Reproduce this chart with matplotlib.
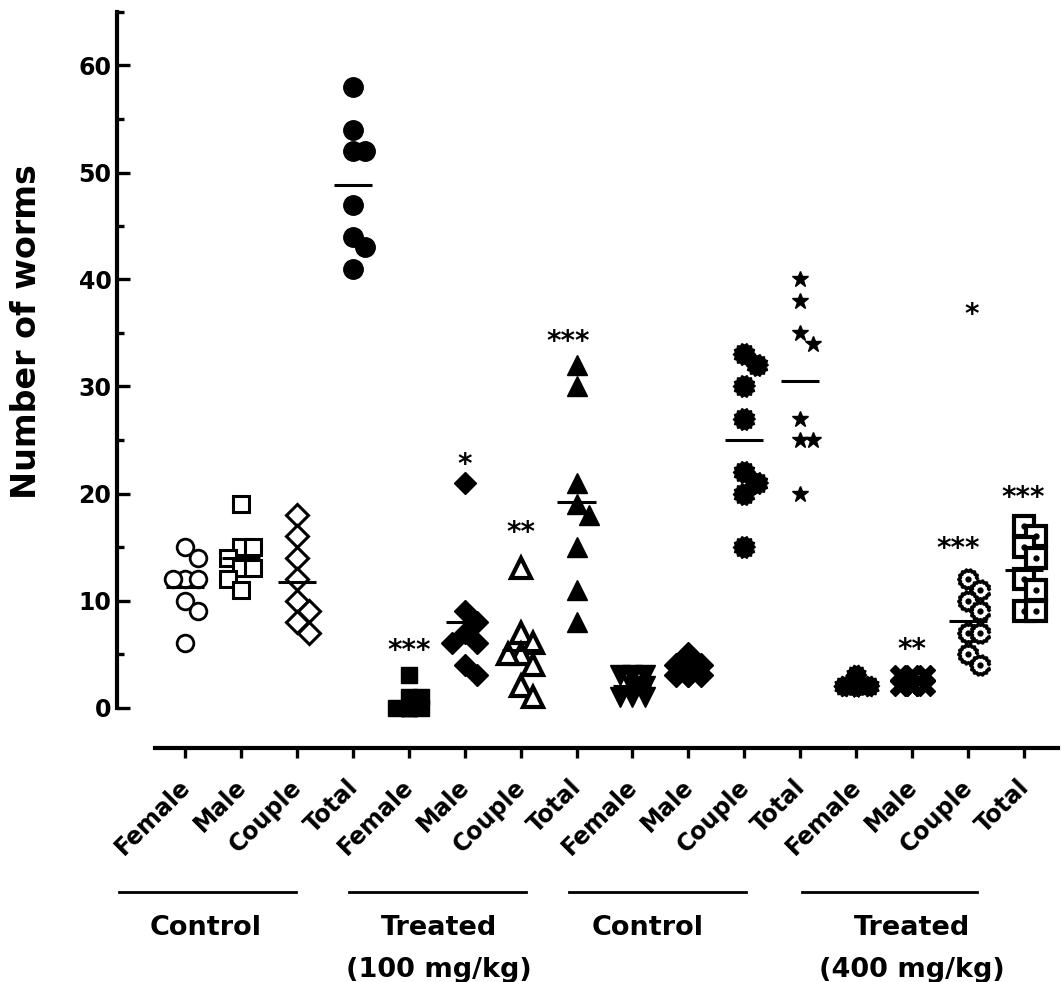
import numpy as np
import matplotlib
matplotlib.use("Agg")
import matplotlib.pyplot as plt
from matplotlib.path import Path
from matplotlib import transforms

# categorias no eixo x
categorias = ['Female', 'Male', 'Couple', 'Total'] * 4

# valores (número de vermes por animal)
ctrl1_female = [15, 14, 12, 12, 12, 10, 9, 6]
ctrl1_male = [19, 15, 15, 14, 13, 13, 12, 11]
ctrl1_couple = [18, 16, 14, 12, 10, 9, 8, 7]
ctrl1_total = [58, 54, 52, 52, 47, 44, 43, 41]
t100_female = [3, 1, 1, 0, 0, 0, 0, 0]
t100_male = [21, 9, 8, 7, 6, 6, 4, 3]
t100_couple = [13, 7, 6, 5, 5, 4, 2, 1]
t100_total = [32, 30, 21, 19, 18, 15, 11, 8]
ctrl2_female = [3, 3, 3, 2, 2, 1, 1, 1]
ctrl2_male = [5, 4, 4, 4, 3, 3, 3, 3]
ctrl2_couple = [33, 32, 30, 27, 22, 21, 20, 15]
ctrl2_total = [40, 38, 35, 34, 27, 25, 25, 20]
t400_female = [3, 2, 2, 2, 2, 2, 2, 2]
t400_male = [3, 3, 3, 2, 2, 2, 2, 2]
t400_couple = [12, 11, 10, 9, 7, 7, 5, 4]
t400_total = [17, 16, 15, 14, 12, 11, 9, 9]

series = [ctrl1_female, ctrl1_male, ctrl1_couple, ctrl1_total,
          t100_female, t100_male, t100_couple, t100_total,
          ctrl2_female, ctrl2_male, ctrl2_couple, ctrl2_total,
          t400_female, t400_male, t400_couple, t400_total]

# asteriscos de significância (posição x, y, texto)
signif_x = [4, 5, 6, 6.85, 13, 13.82, 14.07, 14.98]
signif_y = [6.0, 23.4, 17.1, 34.9, 6.1, 15.6, 37.4, 20.3]
signif_txt = ['***', '*', '**', '***', '**', '***', '*', '***']

# grupos embaixo do eixo
grupos = ['Control', 'Treated\n(100 mg/kg)', 'Control', 'Treated\n(400 mg/kg)']
grupo_ini = [-1.18, 2.93, 6.87, 11.03]
grupo_fim = [1.98, 6.10, 10.03, 14.16]
grupo_txt_x = [0.36, 4.54, 8.27, 13.0]

# marcador "engrenagem"
ang = np.linspace(0, 2 * np.pi, 29)[:-1]
raio = np.where(np.arange(28) % 2 == 0, 1.0, 0.84)
gear = Path(np.column_stack([raio * np.cos(ang), raio * np.sin(ang)]))

estilos = [
    dict(marker='o', ms=12, mfc='white', mec='k', mew=2),
    dict(marker='s', ms=12, mfc='white', mec='k', mew=2.2),
    dict(marker='D', ms=11, mfc='white', mec='k', mew=2.2),
    dict(marker='o', ms=14, mfc='k', mec='k'),
    dict(marker='s', ms=12, mfc='k', mec='k'),
    dict(marker='D', ms=11, mfc='k', mec='k'),
    dict(marker='^', ms=15, mfc='white', mec='k', mew=3),
    dict(marker='^', ms=14, mfc='k', mec='k'),
    dict(marker='v', ms=14, mfc='k', mec='k'),
    dict(marker='D', ms=12, mfc='k', mec='k'),
    dict(marker=gear, ms=16, mfc='k', mec='k'),
    dict(marker='*', ms=12, mfc='k', mec='k'),
    dict(marker=gear, ms=15, mfc='k', mec='k'),
    dict(marker='X', ms=14, mfc='k', mec='k'),
    dict(marker=gear, ms=14, mfc='white', mec='k', mew=2.5),
    dict(marker='s', ms=14, mfc='white', mec='k', mew=3),
]
com_ponto = [14, 15]

fig = plt.figure(figsize=(10.63, 9.82), dpi=100)
ax = fig.add_axes([117 / 1063, 1 - 707.5 / 982, (1060 - 117) / 1063, 695.5 / 982])
ax.set_xlim(-1.216, 15.645)
ax.set_ylim(0, 65)

px_x = ax.bbox.width / (15.645 + 1.216)
px_y = ax.bbox.height / 65.0


def espalhar(valores, centro, dist=12.5, passo=12.5, max_passos=1):
    # espalha pontos iguais na horizontal (tipo beeswarm), com largura limitada
    colocados = []
    xs = []
    cands = [0]
    for j in range(1, max_passos + 1):
        cands += [j, -j]
    for v in valores:
        melhor, melhor_d = 0, -1
        for c in cands:
            d = min([np.hypot(c * passo - px, (v - pv) * px_y) for px, pv in colocados] or [1e9])
            if d >= dist:
                melhor = c
                break
            if d > melhor_d + 0.5:
                melhor, melhor_d = c, d
        colocados.append((melhor * passo, v))
        xs.append(centro + melhor * passo / px_x)
    return xs


for i, vals in enumerate(series):
    xs = espalhar(vals, i)
    ax.plot(xs, vals, linestyle='none', clip_on=False, zorder=3, **estilos[i])
    if i in com_ponto:
        ax.plot(xs, vals, linestyle='none', marker='o', ms=3.5, color='k',
                clip_on=False, zorder=4)
    ax.hlines(np.mean(vals), i - 0.34, i + 0.34, color='k', lw=2.2, zorder=5)

for x, y, t in zip(signif_x, signif_y, signif_txt):
    tr = transforms.offset_copy(ax.transData, fig=fig, y=-0.58 * 20, units='points')
    ax.text(x, y, t, transform=tr, ha='center', va='baseline', fontsize=20,
            fontweight='bold', color='k', clip_on=False)

# eixos no estilo GraphPad
for s in ['top', 'right']:
    ax.spines[s].set_visible(False)
ax.spines['left'].set_linewidth(3)
ax.spines['left'].set_bounds(0, 65)
ax.spines['bottom'].set_linewidth(3)
ax.spines['bottom'].set_position(('outward', 29.5))
ax.spines['bottom'].set_bounds(-0.54, 15.61)

ax.set_yticks(range(0, 61, 10))
ax.set_yticks(range(5, 66, 10), minor=True)
ax.tick_params(axis='y', which='major', direction='in', length=9.5, width=2.4,
               labelsize=17, pad=4)
ax.tick_params(axis='y', which='minor', direction='in', length=5, width=2.4)
for lab in ax.get_yticklabels():
    lab.set_fontweight('bold')

ax.set_xticks(range(16))
ax.set_xticklabels(categorias, rotation=45, ha='right', rotation_mode='anchor',
                   fontsize=17, fontweight='bold')
ax.tick_params(axis='x', direction='out', length=7.5, width=2.4, pad=11)
desloc = transforms.ScaledTranslation(-7 / 100, -1 / 100, fig.dpi_scale_trans)
for lab in ax.get_xticklabels():
    lab.set_transform(lab.get_transform() + desloc)

ax.set_ylabel('Number of worms', fontsize=24, fontweight='bold')
ax.yaxis.set_label_coords(-0.078, 0.54)

tr_g = transforms.blended_transform_factory(ax.transData, ax.transAxes)
for nome, a, b, xt in zip(grupos, grupo_ini, grupo_fim, grupo_txt_x):
    ax.plot([a, b], [-0.2653, -0.2653], color='k', lw=2, transform=tr_g, clip_on=False)
    ax.text(xt, -0.2984, nome, transform=tr_g, ha='center', va='top', fontsize=19.5,
            fontweight='bold', linespacing=1.78)

fig.savefig('out.png', dpi=100)
